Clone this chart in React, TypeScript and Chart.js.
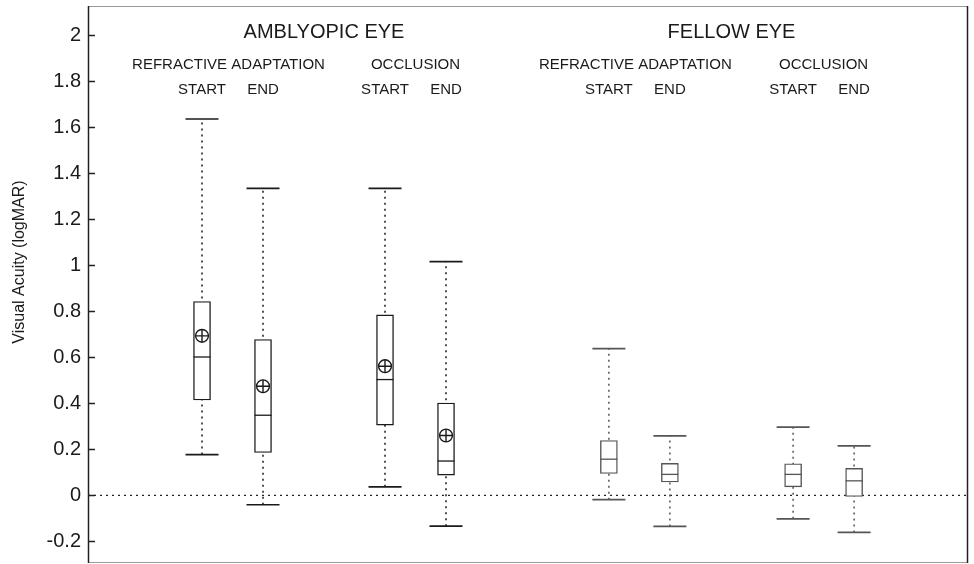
import React, { useEffect, useRef } from "react";
import { Chart, registerables } from "chart.js";

Chart.register(...registerables);

// ---- data ----
const eyeLabels = ["AMBLYOPIC EYE", "FELLOW EYE"];
const treatmentLabels = ["REFRACTIVE ADAPTATION", "OCCLUSION"];
const phaseLabels = ["START", "END"];

// x position of each box (in category units along the axis)
const boxX = [1, 2, 4, 5, 7.67, 8.67, 10.69, 11.69];
const boxEye = [0, 0, 0, 0, 1, 1, 1, 1];
const whiskerMax = [1.635, 1.334, 1.334, 1.015, 0.637, 0.258, 0.296, 0.215];
const q3Values = [0.842, 0.677, 0.784, 0.401, 0.238, 0.139, 0.137, 0.117];
const medianValues = [0.601, 0.348, 0.503, 0.149, 0.157, 0.091, 0.091, 0.063];
const q1Values = [0.414, 0.186, 0.305, 0.088, 0.095, 0.058, 0.037, -0.005];
const whiskerMin = [0.177, -0.041, 0.037, -0.134, -0.019, -0.135, -0.102, -0.161];
const meanValues: (number | null)[] = [0.693, 0.474, 0.561, 0.26, null, null, null, null];

const yTickValues = [-0.2, 0, 0.2, 0.4, 0.6, 0.8, 1, 1.2, 1.4, 1.6, 1.8, 2];
const yTickLabels = ["-0.2", "0", "0.2", "0.4", "0.6", "0.8", "1", "1.2", "1.4", "1.6", "1.8", "2"];

const X_MIN = -0.869;
const X_MAX = 13.557;
const Y_MIN = -0.294;
const Y_MAX = 2.126;

// header text rows (y in data units)
const Y_EYE = 2.013;
const Y_TREAT = 1.871;
const Y_PHASE = 1.763;

const FONT = '"Liberation Sans", Arial, Helvetica, sans-serif';
const AMB = "#1a1a1a";
const FEL = "#555555";
const colorFor = (i: number) => (boxEye[i] === 0 ? AMB : FEL);

const decorPlugin = {
  id: "decor",
  afterDraw(chart: any) {
    const { ctx, chartArea: a, scales } = chart;
    const xs = scales.x;
    const ys = scales.y;
    ctx.save();
    // frame
    ctx.strokeStyle = "#9a9a9a";
    ctx.lineWidth = 1;
    ctx.beginPath();
    ctx.moveTo(a.left, a.top + 0.5);
    ctx.lineTo(a.right, a.top + 0.5);
    ctx.moveTo(a.left, a.bottom - 0.5);
    ctx.lineTo(a.right, a.bottom - 0.5);
    ctx.stroke();
    ctx.strokeStyle = "#222";
    ctx.lineWidth = 1.5;
    ctx.beginPath();
    ctx.moveTo(a.left + 0.5, a.top);
    ctx.lineTo(a.left + 0.5, a.bottom);
    ctx.moveTo(a.right - 0.5, a.top);
    ctx.lineTo(a.right - 0.5, a.bottom);
    ctx.stroke();
    // y tick marks (inside)
    ctx.lineWidth = 1.5;
    ctx.beginPath();
    yTickValues.forEach((v) => {
      const y = Math.round(ys.getPixelForValue(v)) + 0.5;
      ctx.moveTo(a.left, y);
      ctx.lineTo(a.left + 7, y);
    });
    ctx.stroke();

    // headers
    ctx.fillStyle = "#1a1a1a";
    ctx.textAlign = "center";
    ctx.textBaseline = "middle";
    for (let e = 0; e < 2; e++) {
      const idx = boxX.map((_, i) => i).filter((i) => boxEye[i] === e);
      const cx = (xs.getPixelForValue(boxX[idx[0]]) + xs.getPixelForValue(boxX[idx[3]])) / 2;
      ctx.font = `20px ${FONT}`;
      ctx.fillText(eyeLabels[e], cx, ys.getPixelForValue(Y_EYE));
      for (let t = 0; t < 2; t++) {
        const i0 = idx[t * 2];
        const i1 = idx[t * 2 + 1];
        const tx = (xs.getPixelForValue(boxX[i0]) + xs.getPixelForValue(boxX[i1])) / 2;
        ctx.font = `15px ${FONT}`;
        ctx.fillText(treatmentLabels[t], tx - (t === 0 ? 4 : 0), ys.getPixelForValue(Y_TREAT));
        ctx.fillText(phaseLabels[0], xs.getPixelForValue(boxX[i0]), ys.getPixelForValue(Y_PHASE));
        ctx.fillText(phaseLabels[1], xs.getPixelForValue(boxX[i1]), ys.getPixelForValue(Y_PHASE));
      }
    }
    // y axis title
    ctx.save();
    ctx.translate(20, 262);
    ctx.rotate(-Math.PI / 2);
    ctx.font = `16px ${FONT}`;
    ctx.fillStyle = "#1a1a1a";
    ctx.fillText("Visual Acuity (logMAR)", 0, 0);
    ctx.restore();
    ctx.restore();
  },
};

export default function App() {
  const ref = useRef<HTMLCanvasElement>(null);
  useEffect(() => {
    if (!ref.current) return;
    const whiskerSets = boxX.map((x, i) => ({
      type: "line" as const,
      data: [
        { x, y: whiskerMin[i] },
        { x, y: whiskerMax[i] },
      ],
      borderColor: colorFor(i),
      borderWidth: 1.5,
      borderDash: [2, 4],
      pointRadius: 0,
      order: 10,
    }));
    const chart = new Chart(ref.current, {
      type: "bar",
      data: {
        datasets: [
          {
            type: "line",
            data: [
              { x: X_MIN, y: 0 },
              { x: X_MAX, y: 0 },
            ],
            borderColor: "#222",
            borderWidth: 1.4,
            borderDash: [2, 4],
            pointRadius: 0,
            order: 11,
          } as any,
          ...whiskerSets,
          {
            type: "bar",
            data: boxX.map((x, i) => ({ x, y: [q1Values[i], q3Values[i]] })),
            backgroundColor: "#ffffff",
            borderColor: boxX.map((_, i) => colorFor(i)),
            borderWidth: 1.4,
            borderSkipped: false,
            barThickness: 17,
            order: 5,
          } as any,
          {
            type: "scatter",
            data: boxX.flatMap((x, i) => [
              { x, y: whiskerMax[i] },
              { x, y: whiskerMin[i] },
            ]),
            pointStyle: "line",
            pointRadius: 16.5,
            borderColor: boxX.flatMap((_, i) => [colorFor(i), colorFor(i)]),
            borderWidth: 1.7,
            order: 4,
          } as any,
          {
            type: "scatter",
            data: boxX.map((x, i) => ({ x, y: medianValues[i] })),
            pointStyle: "line",
            pointRadius: 8.5,
            borderColor: boxX.map((_, i) => colorFor(i)),
            borderWidth: 1.3,
            order: 3,
          } as any,
          {
            type: "scatter",
            data: boxX.map((x, i) => ({ x, y: meanValues[i] })),
            pointStyle: "circle",
            pointRadius: 6.4,
            backgroundColor: "rgba(0,0,0,0)",
            borderColor: AMB,
            borderWidth: 1.4,
            order: 2,
          } as any,
          {
            type: "scatter",
            data: boxX.map((x, i) => ({ x, y: meanValues[i] })),
            pointStyle: "cross",
            pointRadius: 6.4,
            borderColor: AMB,
            borderWidth: 1.4,
            order: 1,
          } as any,
        ],
      },
      options: {
        responsive: false,
        animation: false,
        devicePixelRatio: 1,
        events: [],
        layout: { autoPadding: false, padding: { left: 0, top: 6, right: 6, bottom: 1 } },
        plugins: { legend: { display: false }, tooltip: { enabled: false } },
        scales: {
          x: {
            type: "linear",
            min: X_MIN,
            max: X_MAX,
            offset: false,
            display: false,
          },
          y: {
            type: "linear",
            min: Y_MIN,
            max: Y_MAX,
            afterBuildTicks: (scale: any) => {
              scale.ticks = yTickValues.map((v) => ({ value: v }));
            },
            afterFit: (scale: any) => {
              scale.width = 88;
              scale.paddingTop = 0;
              scale.paddingBottom = 0;
            },
            border: { display: false },
            grid: { display: false, drawTicks: false },
            ticks: {
              padding: 7,
              color: "#1a1a1a",
              font: { family: FONT, size: 20 },
              callback: (_v: any, i: number) => yTickLabels[i],
            },
          },
        },
      } as any,
      plugins: [decorPlugin],
    });
    return () => chart.destroy();
  }, []);
  return (
    <div style={{ position: "absolute", left: 0, top: 0, width: 974, height: 564, background: "#fff" }}>
      <canvas ref={ref} width={974} height={564} style={{ width: 974, height: 564, display: "block" }} />
    </div>
  );
}
